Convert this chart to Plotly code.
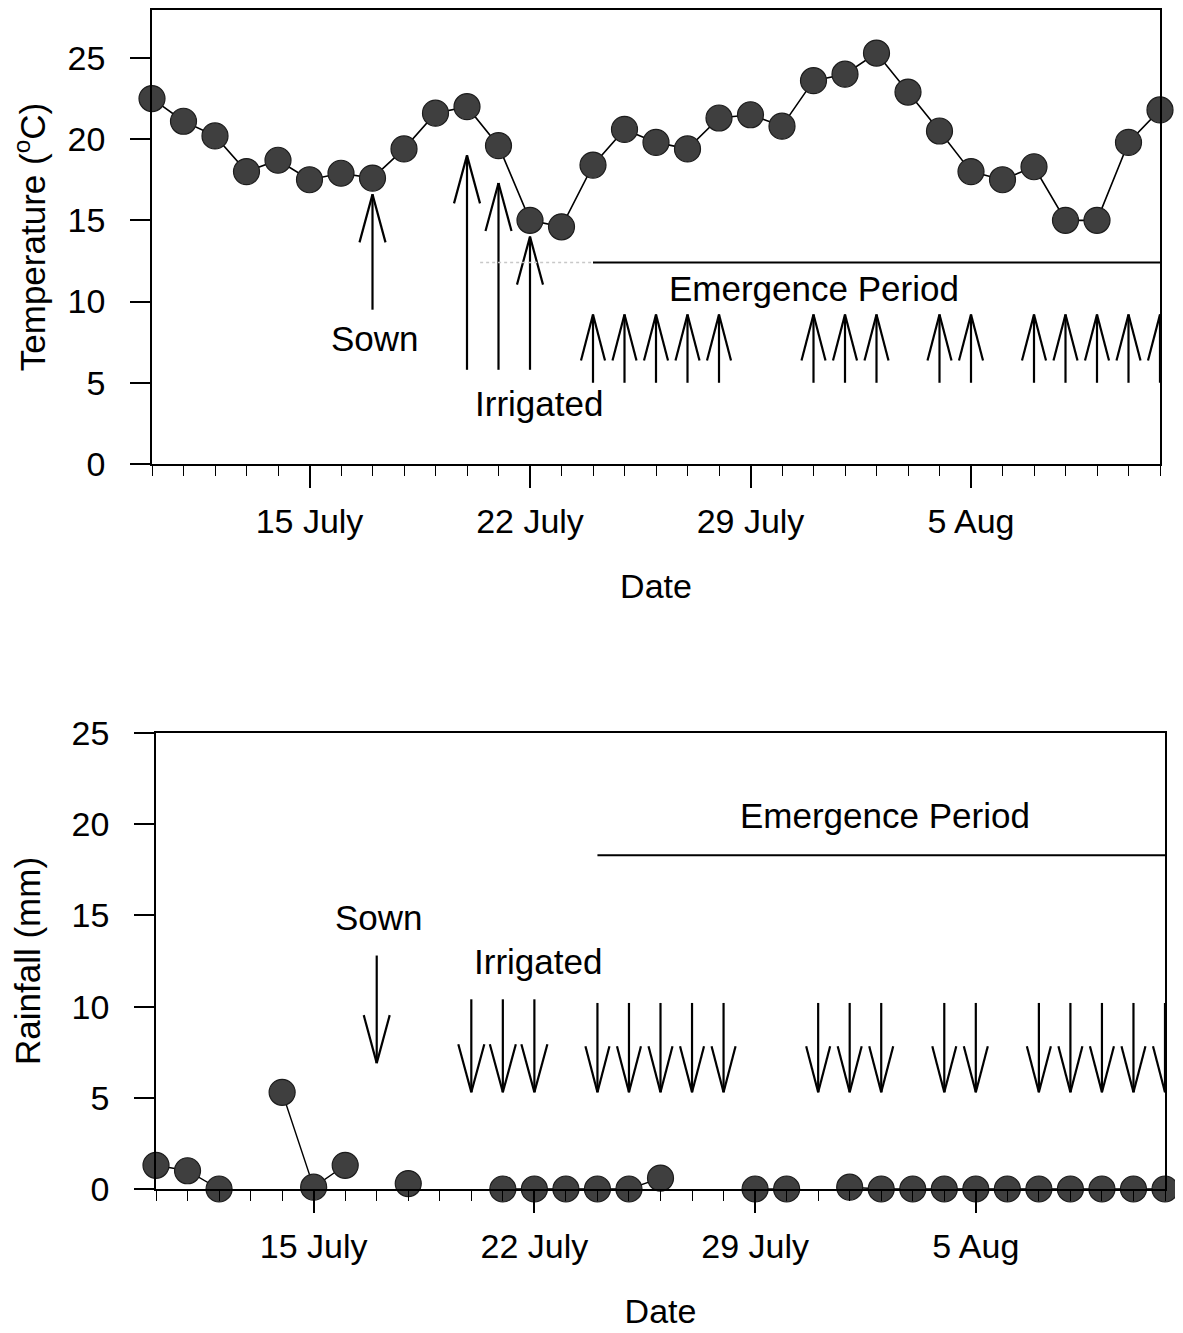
import plotly.graph_objects as go
import pandas as pd

# ---------------- data ----------------
dates = [
    "1997-07-10", "1997-07-11", "1997-07-12", "1997-07-13", "1997-07-14", "1997-07-15",
    "1997-07-16", "1997-07-17", "1997-07-18", "1997-07-19", "1997-07-20", "1997-07-21",
    "1997-07-22", "1997-07-23", "1997-07-24", "1997-07-25", "1997-07-26", "1997-07-27",
    "1997-07-28", "1997-07-29", "1997-07-30", "1997-07-31", "1997-08-01", "1997-08-02",
    "1997-08-03", "1997-08-04", "1997-08-05", "1997-08-06", "1997-08-07", "1997-08-08",
    "1997-08-09", "1997-08-10", "1997-08-11",
]
temperature = [
    22.5, 21.1, 20.2, 18.0, 18.7, 17.5, 17.9, 17.6, 19.4, 21.6, 22.0, 19.6,
    15.0, 14.6, 18.4, 20.6, 19.8, 19.4, 21.3, 21.5, 20.8, 23.6, 24.0, 25.3,
    22.9, 20.5, 18.0, 17.5, 18.3, 15.0, 15.0, 19.8, 21.8,
]
rainfall = [
    1.3, 1.0, 0.0, None, 5.3, 0.1, 1.3, None, 0.3, None, None, 0.0,
    0.0, 0.0, 0.0, 0.0, 0.6, None, None, 0.0, 0.0, None, 0.1, 0.0,
    0.0, 0.0, 0.0, 0.0, 0.0, 0.0, 0.0, 0.0, 0.0,
]
tick_dates = ["1997-07-15", "1997-07-22", "1997-07-29", "1997-08-05"]
tick_labels = ["15 July", "22 July", "29 July", "5 Aug"]

sown_date = "1997-07-17"
irrigated_dates = ["1997-07-20", "1997-07-21", "1997-07-22"]
emergence_dates = [
    "1997-07-24", "1997-07-25", "1997-07-26", "1997-07-27", "1997-07-28",
    "1997-07-31", "1997-08-01", "1997-08-02", "1997-08-04", "1997-08-05",
    "1997-08-07", "1997-08-08", "1997-08-09", "1997-08-10", "1997-08-11",
]
emergence_start = "1997-07-24"
emergence_end = "1997-08-11"

# ---------------- layout geometry ----------------
W, H = 1183, 1333
OFF = 8  # page body margin
FONT = "Arial, Liberation Sans, Helvetica, sans-serif"
top_px = dict(x0=152, x1=1160, y0=10, y1=464)
bot_px = dict(x0=156, x1=1165, y0=733, y1=1189)
x_range = ["1997-07-10", "1997-08-11"]
n_days = 32
top_yr = [0, 27.95]
bot_yr = [0, 25]


def dom(p):
    return ([(p["x0"] - OFF) / W, (p["x1"] - OFF) / W],
            [1 - (p["y1"] - OFF) / H, 1 - (p["y0"] - OFF) / H])


top_xd, top_yd = dom(top_px)
bot_xd, bot_yd = dom(bot_px)

fig = go.Figure()

marker = dict(size=26, color="#3f3f3f", line=dict(color="#1c1c1c", width=1.2))
fig.add_trace(go.Scatter(x=dates, y=temperature, mode="lines+markers",
                         line=dict(color="black", width=1.6), marker=marker,
                         cliponaxis=False,
                         xaxis="x", yaxis="y", showlegend=False, name="Temperature"))
fig.add_trace(go.Scatter(x=dates, y=rainfall, mode="lines+markers",
                         line=dict(color="black", width=1.4), marker=marker,
                         connectgaps=False, cliponaxis=False,
                         xaxis="x2", yaxis="y2", showlegend=False, name="Rainfall"))

shapes = []


def arrow(xref, yref, px, yr, date, y_from, y_to, head_px=48, half_px=13, width=2.2):
    ppd = (px["x1"] - px["x0"]) / n_days
    ppu = (px["y1"] - px["y0"]) / (yr[1] - yr[0])
    d = pd.Timestamp(date)
    dx = pd.Timedelta(days=half_px / ppd)
    sign = 1 if y_to > y_from else -1
    hy = y_to - sign * head_px / ppu
    common = dict(type="line", xref=xref, yref=yref, layer="above",
                  line=dict(color="black", width=width))
    shapes.append(dict(x0=d, x1=d, y0=y_from, y1=y_to, **common))
    shapes.append(dict(x0=d - dx, x1=d, y0=hy, y1=y_to, **common))
    shapes.append(dict(x0=d + dx, x1=d, y0=hy, y1=y_to, **common))


# top chart arrows (pointing up)
arrow("x", "y", top_px, top_yr, sown_date, 9.5, 16.6)
for d, tip in zip(irrigated_dates, [19.0, 17.3, 14.0]):
    arrow("x", "y", top_px, top_yr, d, 5.8, tip)
for d in emergence_dates:
    arrow("x", "y", top_px, top_yr, d, 5.0, 9.2, head_px=46, half_px=12)

# bottom chart arrows (pointing down)
arrow("x2", "y2", bot_px, bot_yr, sown_date, 12.8, 6.9)
for d in irrigated_dates:
    arrow("x2", "y2", bot_px, bot_yr, d, 10.4, 5.3)
for d in emergence_dates:
    arrow("x2", "y2", bot_px, bot_yr, d, 10.2, 5.3, head_px=46, half_px=12)

# emergence period lines
shapes.append(dict(type="line", xref="x", yref="y", x0="1997-07-20 10:00", x1=emergence_start,
                   y0=12.4, y1=12.4, line=dict(color="#c8c8c8", width=1.5, dash="dot")))
shapes.append(dict(type="line", xref="x", yref="y", x0=emergence_start, x1=emergence_end,
                   y0=12.4, y1=12.4, line=dict(color="black", width=2)))
shapes.append(dict(type="line", xref="x2", yref="y2", x0=emergence_start, x1=emergence_end,
                   y0=18.3, y1=18.3, line=dict(color="black", width=2)))

afont = dict(family=FONT, size=35, color="black")
annotations = [
    dict(x="1997-07-17 02:00", y=7.75, xref="x", yref="y", text="Sown", showarrow=False, font=afont),
    dict(x="1997-07-22 07:00", y=3.75, xref="x", yref="y", text="Irrigated", showarrow=False, font=afont),
    dict(x="1997-07-31 00:00", y=10.8, xref="x", yref="y", text="Emergence Period", showarrow=False, font=afont),
    dict(x="1997-07-17 02:00", y=14.9, xref="x2", yref="y2", text="Sown", showarrow=False, font=afont),
    dict(x="1997-07-22 03:00", y=12.45, xref="x2", yref="y2", text="Irrigated", showarrow=False, font=afont),
    dict(x="1997-08-02 03:00", y=20.5, xref="x2", yref="y2", text="Emergence Period", showarrow=False, font=afont),
]

tfont = dict(family=FONT, size=34, color="black")


def xaxis(domain, anchor):
    return dict(domain=domain, anchor=anchor, type="date", range=x_range,
                tickmode="array", tickvals=tick_dates, ticktext=tick_labels,
                ticks="outside", ticklen=22, tickwidth=1.5, tickcolor="black",
                ticklabelstandoff=4,
                minor=dict(ticks="outside", ticklen=10, tickwidth=1.2, tickcolor="black",
                           dtick=86400000, tick0="1997-07-10", showgrid=False),
                showline=True, linecolor="black", linewidth=1.6, mirror=True,
                showgrid=False, zeroline=False, automargin=False,
                tickfont=tfont,
                title=dict(text="Date", font=tfont, standoff=36))


def yaxis(domain, anchor, rng, title):
    return dict(domain=domain, anchor=anchor, range=rng, tickmode="linear", tick0=0, dtick=5,
                ticks="outside", ticklen=20, tickwidth=1.5, tickcolor="black",
                ticklabelstandoff=18,
                showline=True, linecolor="black", linewidth=1.6, mirror=True,
                showgrid=False, zeroline=False, automargin=False,
                tickfont=tfont,
                title=dict(text=title, font=dict(family=FONT, size=35, color="black"), standoff=20))


fig.update_layout(
    width=W, height=H,
    margin=dict(l=0, r=0, t=0, b=0, pad=0),
    paper_bgcolor="white", plot_bgcolor="white",
    font=dict(family=FONT, color="black"),
    xaxis=xaxis(top_xd, "y"),
    yaxis=yaxis(top_yd, "x", top_yr, "Temperature (<sup>o</sup>C)"),
    xaxis2=xaxis(bot_xd, "y2"),
    yaxis2=yaxis(bot_yd, "x2", bot_yr, "Rainfall (mm)"),
    shapes=shapes,
    annotations=annotations,
    showlegend=False,
)

fig.write_html("out.html")
